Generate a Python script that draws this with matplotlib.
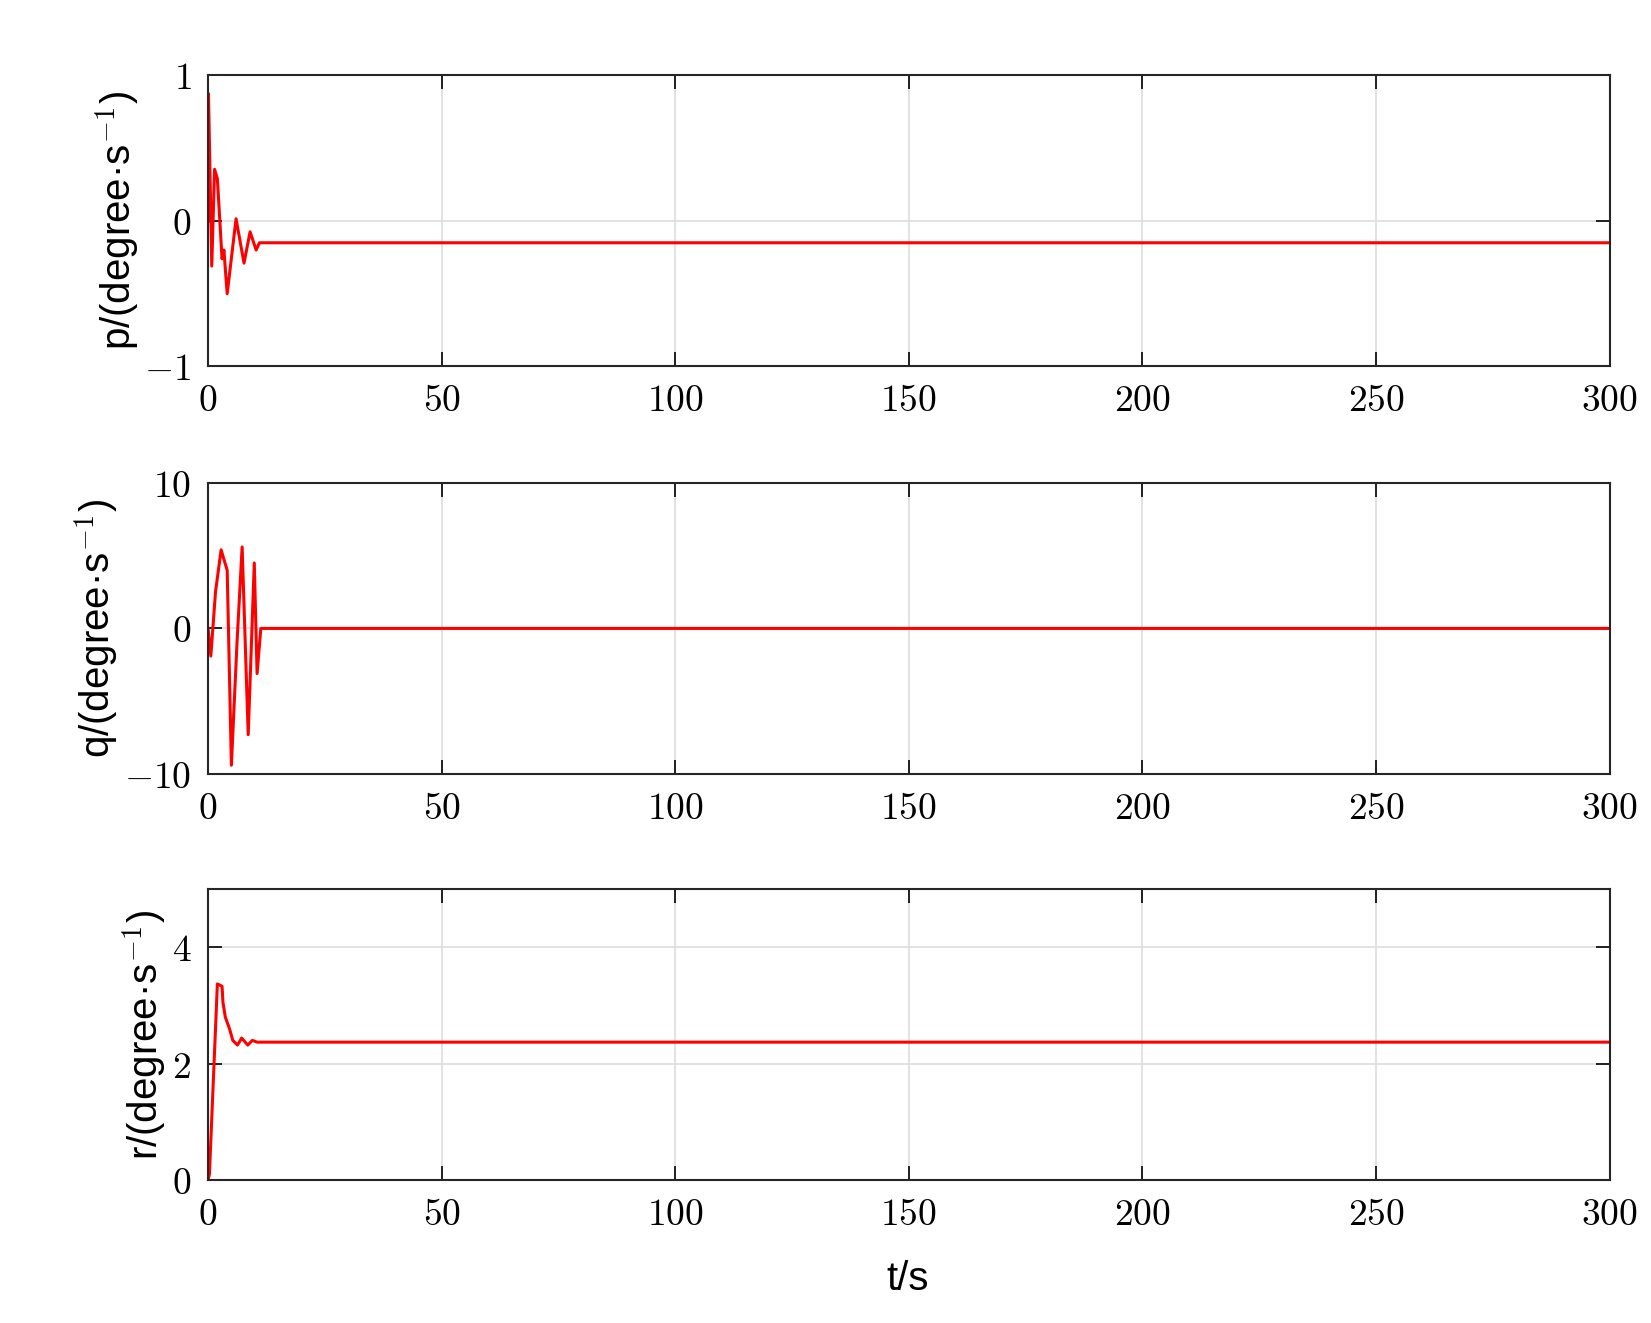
import matplotlib.pyplot as plt
from matplotlib.ticker import FuncFormatter

plt.rcParams['mathtext.fontset'] = 'cm'

# (time in s, rates in degree/s)
t_p = [0, 0.1, 0.8, 1.4, 2.0, 3.0, 3.4, 4.1, 6.0, 7.7, 9.0, 10.3, 11.0, 300]
p = [0, 0.875, -0.31, 0.355, 0.29, -0.26, -0.2, -0.5, 0.015, -0.29, -0.075, -0.2, -0.15, -0.15]

t_q = [0, 0.6, 1.6, 2.8, 4.1, 5.0, 6.2, 7.3, 8.6, 9.9, 10.5, 11.3, 300]
q = [0, -1.9, 2.5, 5.4, 4.0, -9.4, -1.0, 5.6, -7.3, 4.5, -3.1, 0, 0]

t_r = [0, 0.3, 2.0, 3.0, 3.2, 3.7, 4.6, 5.3, 6.3, 7.2, 8.5, 9.5, 10.5, 300]
r = [0, 0.1, 3.37, 3.33, 3.05, 2.8, 2.6, 2.4, 2.32, 2.44, 2.32, 2.4, 2.37, 2.37]

sup = '$^{\\mathsf{-1}}$'
panels = [
    (t_p, p, (-1, 1), [-1, 0, 1], 'p/(degree·s' + sup + ')'),
    (t_q, q, (-10, 10), [-10, 0, 10], 'q/(degree·s' + sup + ')'),
    (t_r, r, (0, 5), [0, 2, 4], 'r/(degree·s' + sup + ')'),
]
bottoms = [0.723, 0.415, 0.108]

fig = plt.figure(figsize=(16.51, 13.23), dpi=100)
fmt = FuncFormatter(lambda v, pos: '$%g$' % v)
for (tt, yy, ylim, yt, lab), b in zip(panels, bottoms):
    ax = fig.add_axes([0.126, b, 0.849, 0.22])
    ax.plot(tt, yy, color='red', lw=2.2)
    ax.set_xlim(0, 300)
    ax.set_ylim(*ylim)
    ax.set_xticks(range(0, 301, 50))
    ax.set_yticks(yt)
    ax.xaxis.set_major_formatter(fmt)
    ax.yaxis.set_major_formatter(fmt)
    ax.grid(True, color='#dddddd', lw=1.2)
    ax.tick_params(labelsize=27, direction='in', length=10, width=1.2, top=True, right=True, pad=12)
    for s in ax.spines.values():
        s.set_linewidth(1.5)
        s.set_color('#262626')
    ax.set_ylabel(lab, fontsize=29, family='Liberation Sans', labelpad=2)

fig.text(0.55, 0.025, 't/s', fontsize=29, family='Liberation Sans', ha='center')
fig.savefig('out.png')
